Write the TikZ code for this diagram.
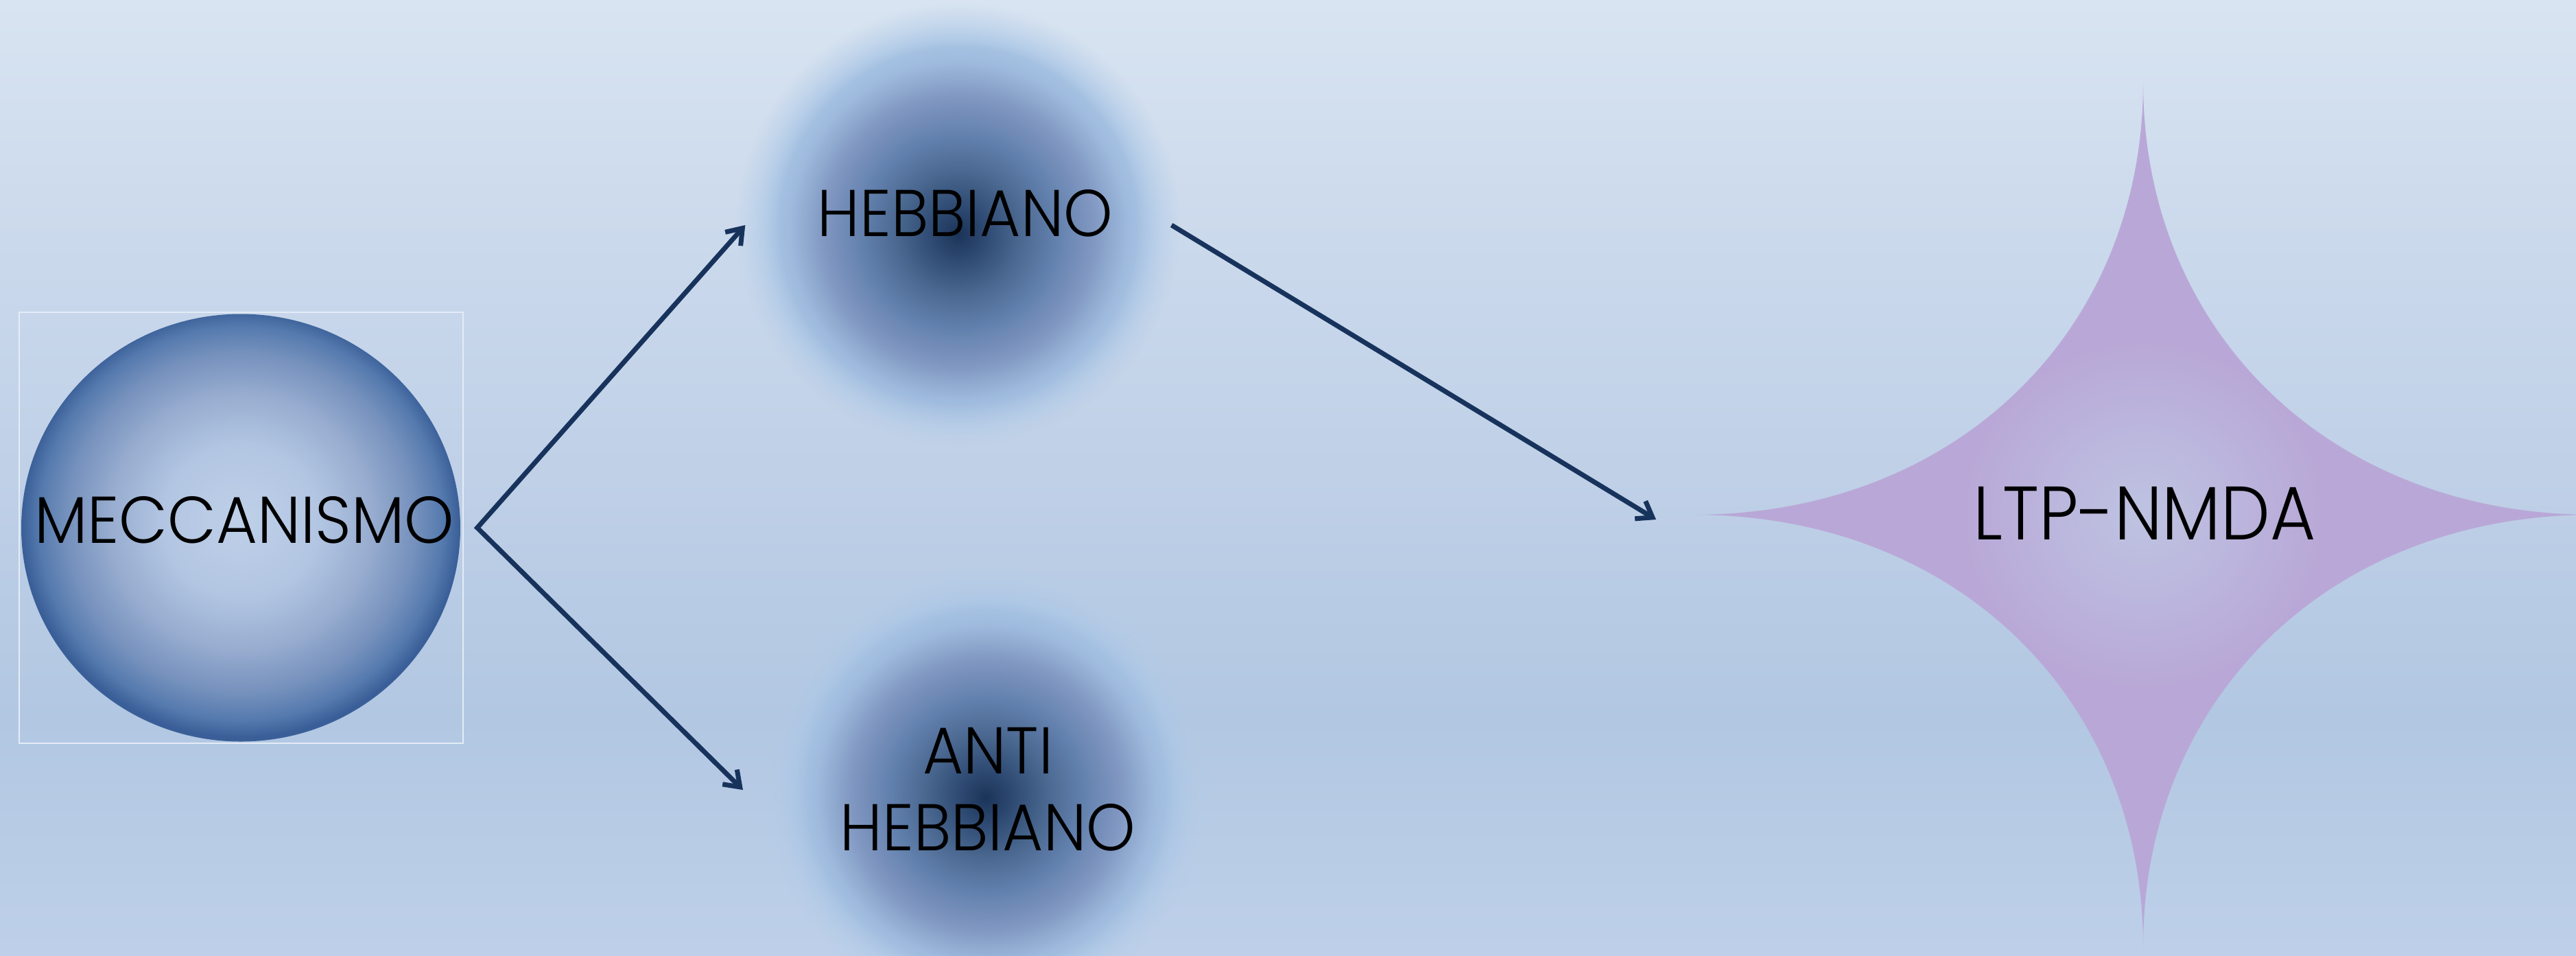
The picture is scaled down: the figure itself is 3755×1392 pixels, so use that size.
\documentclass[tikz,border=0pt]{standalone}
\usepackage{fontspec}
\setmainfont{Poppins}[FakeStretch=0.945, UprightFont={* Light}]
\usetikzlibrary{arrows.meta,fadings,shapes.geometric}

\definecolor{bgtop}{HTML}{D8E4F1}
\definecolor{bgupper}{HTML}{CBD9EC}
\definecolor{bgmid}{HTML}{BFD0E7}
\definecolor{bglow}{HTML}{B2C7E2}
\definecolor{bgbot}{HTML}{BED0E9}
\definecolor{arrowcol}{HTML}{17335C}
\definecolor{framecol}{HTML}{E4ECF6}
\definecolor{mc0}{HTML}{BFD0E8}
\definecolor{mc1}{HTML}{B2C5E2}
\definecolor{mc2}{HTML}{97ACCF}
\definecolor{mc3}{HTML}{7490BC}
\definecolor{mc4}{HTML}{557AAE}
\definecolor{mc5}{HTML}{3A5F98}
\definecolor{dk0}{HTML}{1B3358}
\definecolor{dk1}{HTML}{2E4A72}
\definecolor{dk2}{HTML}{4A6890}
\definecolor{dk3}{HTML}{6381AE}
\definecolor{dk4}{HTML}{7F96C0}
\definecolor{dk5}{HTML}{9DB9DC}
\definecolor{dk6}{HTML}{ABC7E6}
\definecolor{dk7}{HTML}{B5CDE8}
\definecolor{st0}{HTML}{BEC3E1}
\definecolor{st1}{HTML}{BBB6DD}
\definecolor{st2}{HTML}{B9A8D7}

\pgfdeclareverticalshading{bgshade}{100bp}{color(0bp)=(bgbot); color(25bp)=(bgbot); color(37.5bp)=(bglow); color(50bp)=(bgmid); color(62.5bp)=(bgupper); color(75bp)=(bgtop); color(100bp)=(bgtop)}
\pgfdeclareradialshading{meccshade}{\pgfpoint{0bp}{1bp}}{color(0bp)=(mc0); color(9bp)=(mc1); color(15bp)=(mc2); color(20bp)=(mc3); color(23bp)=(mc4); color(25bp)=(mc5); color(50bp)=(mc5)}
\pgfdeclareradialshading{discshade}{\pgfpoint{0bp}{-1bp}}{color(0bp)=(dk0); color(3bp)=(dk1); color(7bp)=(dk2); color(11bp)=(dk3); color(15bp)=(dk4); color(19bp)=(dk5); color(22bp)=(dk6); color(25bp)=(dk7); color(50bp)=(dk7)}
\pgfdeclareradialshading{discfadeshade}{\pgfpoint{0bp}{0bp}}{color(0bp)=(white); color(20bp)=(white); color(25bp)=(black); color(50bp)=(black)}
\pgfdeclarefading{discfade}{\pgfuseshading{discfadeshade}}
\pgfdeclareradialshading{starshade}{\pgfpoint{0bp}{0bp}}{color(0bp)=(st0); color(5bp)=(st1); color(10bp)=(st2); color(50bp)=(st2)}

\begin{document}
\begin{tikzpicture}[x=0.1mm,y=-0.1mm,
  txt/.style={inner sep=0pt, text=black, font=\fontsize{27.4pt}{31.75pt}\selectfont},
  txtbig/.style={inner sep=0pt, text=black, font=\fontsize{31.4pt}{36pt}\selectfont},
  arr/.style={draw=arrowcol, line width=0.7mm, line join=miter},
  barbs/.style={{Straight Barb[length=2.1mm,width=3mm]}-{Straight Barb[length=2.1mm,width=3mm]}},
  barb/.style={-{Straight Barb[length=2.1mm,width=3mm]}},
  discfill/.style={shading=discshade, path fading=discfade}]
\useasboundingbox (0,0) rectangle (3755,1392);
\shade[shading=bgshade] (0,0) rectangle (3755,1392);

% four-point star with concave sides
\coordinate (sc) at (3124,750);
\shade[shading=starshade]
  (3780,750) .. controls (3399,750) and (3124,485) .. (3124,120)
  .. controls (3124,485) and (2849,750) .. (2468,750)
  .. controls (2849,750) and (3124,1015) .. (3124,1380)
  .. controls (3124,1015) and (3399,750) .. (3780,750) -- cycle;

% blurred discs
\node[circle, minimum size=62mm, inner sep=0pt] (hebbdisc) at (1397,328) {};
\shade[discfill] (hebbdisc.center) circle[radius=32.3mm];
\node[circle, minimum size=62mm, inner sep=0pt] (antidisc) at (1437,1149) {};
\shade[discfill] (antidisc.center) circle[radius=32.3mm];

% meccanismo sphere
\node[ellipse, shading=meccshade, minimum width=64mm, minimum height=62.3mm, inner sep=0pt] (mecc) at (351,769) {};
\node[draw=framecol, line width=0.2mm, minimum width=64.7mm, minimum height=62.8mm, inner sep=0pt] (meccbox) at (351.5,769) {};

% texts
\node[txt] (mecctxt) at (356,758) {\scalebox{1.01}[1]{MECCANISMO}};
\node[txt] (hebbtxt) at (1407,311) {HEBBIANO};
\node[txt, align=center] (antitxt) at (1440,1150) {ANTI\\HEBBIANO};
\node[txtbig] (ltptxt) at (3126,748) {\scalebox{0.975}[1]{LTP-NMDA}};

% connectors
\coordinate (fork) at ([xshift=2.4mm]mecc.east);
\coordinate (antiin) at (1083,1151);
\coordinate (ltpin) at (2414,757);
\draw[arr, barbs] (hebbdisc.west) -- (fork) -- (antiin);
\draw[arr, barb] (hebbdisc.east) -- (ltpin);
\end{tikzpicture}
\end{document}
